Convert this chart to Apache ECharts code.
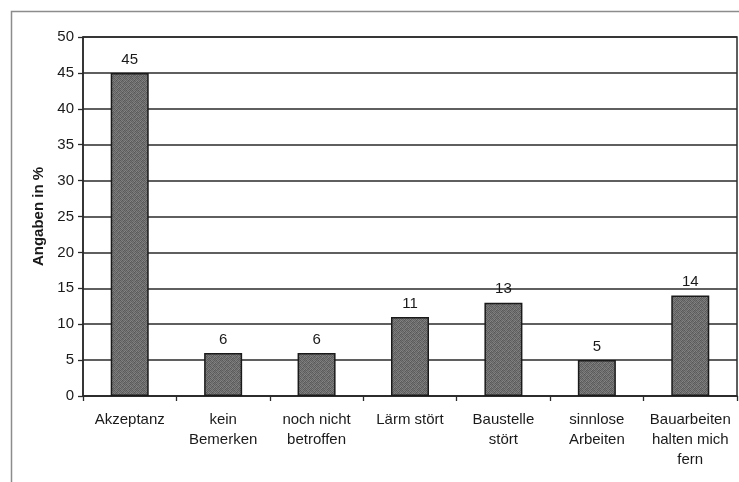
<!DOCTYPE html>
<html>
<head>
<meta charset="utf-8">
<script src="https://cdn.jsdelivr.net/npm/echarts@6/dist/echarts.min.js"></script>
<style>
  html, body { margin: 0; padding: 0; background: #fff; }
  #chart { width: 739px; height: 482px; }
</style>
</head>
<body>
<div id="chart"></div>
<script>
// Survey answers, share of mentions in percent
const categories = [
  'Akzeptanz',
  'kein\nBemerken',
  'noch nicht\nbetroffen',
  'Lärm stört',
  'Baustelle\nstört',
  'sinnlose\nArbeiten',
  'Bauarbeiten\nhalten mich\nfern'
];
const values = [45, 6, 6, 11, 13, 5, 14];
const yTicks = [0, 5, 10, 15, 20, 25, 30, 35, 40, 45, 50];
const yAxisTitle = 'Angaben in %';

// Fine grey stipple used as the bar fill (fixed 6x6 tile of grey levels)
function stipple() {
  const tile = [
    [0x58, 0x80, 0x66, 0x7c, 0x5c, 0x74],
    [0x78, 0x60, 0x84, 0x5a, 0x7e, 0x62],
    [0x64, 0x7a, 0x56, 0x76, 0x68, 0x82],
    [0x82, 0x5e, 0x72, 0x62, 0x86, 0x5a],
    [0x5c, 0x76, 0x68, 0x80, 0x58, 0x70],
    [0x7e, 0x66, 0x7c, 0x5a, 0x74, 0x60]
  ];
  const c = document.createElement('canvas');
  c.width = 6; c.height = 6;
  const ctx = c.getContext('2d');
  for (let y = 0; y < 6; y++) {
    for (let x = 0; x < 6; x++) {
      const v = tile[y][x];
      ctx.fillStyle = 'rgb(' + v + ',' + v + ',' + v + ')';
      ctx.fillRect(x, y, 1, 1);
    }
  }
  return c;
}

const chart = echarts.init(document.getElementById('chart'), null, { renderer: 'canvas' });
const font = 'Liberation Sans, Arial, sans-serif';
const ink = '#1a1a1a';
const rule = '#2a2a2a';

chart.setOption({
  animation: false,
  backgroundColor: '#fff',
  textStyle: { fontFamily: font },
  graphic: [{
    type: 'rect',
    silent: true,
    shape: { x: 11.5, y: 11.5, width: 760, height: 520 },
    style: { fill: 'none', stroke: '#8c8c8c', lineWidth: 1.5 }
  }],
  grid: {
    left: 83, right: 2, top: 37, bottom: 86,
    show: true, borderColor: rule, borderWidth: 1.5, backgroundColor: 'transparent'
  },
  xAxis: {
    type: 'category',
    data: categories,
    axisLine: { lineStyle: { color: rule, width: 1.5 } },
    axisTick: { show: true, alignWithLabel: false, length: 5, lineStyle: { color: rule, width: 1.3 } },
    axisLabel: {
      interval: 0, color: ink, fontSize: 15, fontFamily: font,
      margin: 14, lineHeight: 20
    }
  },
  yAxis: {
    type: 'value',
    min: yTicks[0], max: yTicks[yTicks.length - 1], interval: 5,
    name: yAxisTitle,
    nameLocation: 'middle',
    nameGap: 32,
    nameRotate: 90,
    nameTextStyle: { fontWeight: 'bold', fontSize: 15, color: ink, fontFamily: font },
    axisLine: { show: true, lineStyle: { color: rule, width: 1.5 } },
    axisTick: { show: true, length: 5, lineStyle: { color: rule, width: 1.3 } },
    axisLabel: { color: ink, fontSize: 15, margin: 9, fontFamily: font },
    splitLine: { show: true, lineStyle: { color: rule, width: 1.5 } }
  },
  series: [{
    type: 'bar',
    data: values,
    barWidth: 38,
    itemStyle: {
      color: { image: stipple(), repeat: 'repeat' },
      borderColor: ink,
      borderWidth: 1.5
    },
    label: {
      show: true, position: 'top', distance: 6,
      color: ink, fontSize: 15, fontFamily: font
    }
  }]
});
</script>
</body>
</html>
